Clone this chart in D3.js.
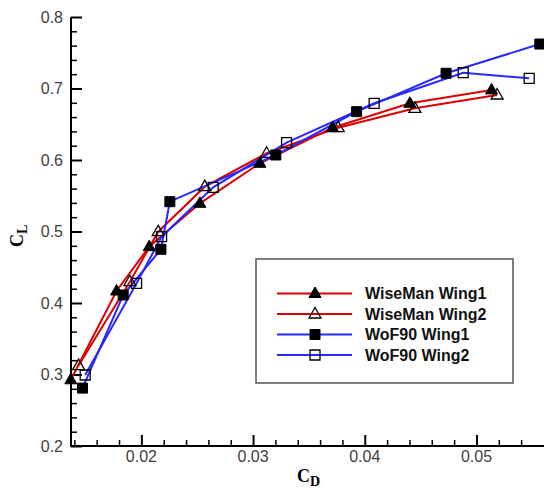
<!DOCTYPE html>
<html>
<head>
<meta charset="utf-8">
<script src="https://cdn.jsdelivr.net/npm/d3@7"></script>
<style>
  html, body { margin: 0; padding: 0; background: #fff; }
  svg { display: block; }
</style>
</head>
<body>
<svg id="chart" width="544" height="488"></svg>
<script>
// ---- data (CD, CL) ----
const seriesNames = ["WiseMan Wing1", "WiseMan Wing2", "WoF90 Wing1", "WoF90 Wing2"];
const wiseMan1CD = [0.01368, 0.01778, 0.02070, 0.02524, 0.03061, 0.03712, 0.04404, 0.05135];
const wiseMan1CL = [0.2926, 0.4168, 0.4788, 0.5394, 0.5954, 0.6452, 0.6793, 0.6980];
const wiseMan2CD = [0.01438, 0.01897, 0.02151, 0.02568, 0.03121, 0.03762, 0.04449, 0.05185];
const wiseMan2CL = [0.3125, 0.4298, 0.4997, 0.5627, 0.6094, 0.6452, 0.6723, 0.6909];
const woF1CD = [0.01473, 0.01837, 0.02175, 0.02255, 0.03204, 0.03927, 0.04728, 0.05567];
const woF1CL = [0.2810, 0.4112, 0.4751, 0.5417, 0.6070, 0.6676, 0.7213, 0.7622];
const woF2CD = [0.01497, 0.01957, 0.02181, 0.02643, 0.03300, 0.04084, 0.04881, 0.05472];
const woF2CL = [0.2993, 0.4275, 0.4927, 0.5618, 0.6242, 0.6793, 0.7221, 0.7143];
const xMajorTicks = [0.02, 0.03, 0.04, 0.05];
const yMajorTicks = [0.2, 0.3, 0.4, 0.5, 0.6, 0.7, 0.8];

const series = [
  {name: seriesNames[0], cd: wiseMan1CD, cl: wiseMan1CL, color: "#dd0000", shape: "tri", filled: true},
  {name: seriesNames[1], cd: wiseMan2CD, cl: wiseMan2CL, color: "#dd0000", shape: "tri", filled: false},
  {name: seriesNames[2], cd: woF1CD, cl: woF1CL, color: "#2828ff", shape: "sq", filled: true},
  {name: seriesNames[3], cd: woF2CD, cl: woF2CL, color: "#2828ff", shape: "sq", filled: false}
];

const svg = d3.select("#chart");
const x = d3.scaleLinear().domain([0.0137, 0.056]).range([71, 71 + (0.056 - 0.0137) * 11170]);
const y = d3.scaleLinear().domain([0.2, 0.8]).range([446, 17]);

const tickFont = "'Liberation Sans', Arial, sans-serif";

// ---- axes ----
const xMinor = d3.range(0.014, 0.0555, 0.002).filter(v => !xMajorTicks.some(m => Math.abs(m - v) < 1e-6));
const yMinor = d3.range(0.2, 0.8001, 0.02).filter(v => !yMajorTicks.some(m => Math.abs(m - v) < 1e-6));

const xAxisMajor = d3.axisTop(x).tickValues(xMajorTicks).tickSize(11).tickFormat("");
const xAxisMinor = d3.axisTop(x).tickValues(xMinor).tickSize(6).tickFormat("");
const yAxisMajor = d3.axisRight(y).tickValues(yMajorTicks).tickSize(11).tickFormat("");
const yAxisMinor = d3.axisRight(y).tickValues(yMinor).tickSize(6).tickFormat("");

function styleAxis(g, w) {
  g.select(".domain").remove();
  g.selectAll(".tick line").attr("stroke", "#000").attr("stroke-width", w);
}
svg.append("g").attr("transform", "translate(0,446)").call(xAxisMinor).call(g => styleAxis(g, 1.5));
svg.append("g").attr("transform", "translate(0,446)").call(xAxisMajor).call(g => styleAxis(g, 2));
svg.append("g").attr("transform", "translate(71,0)").call(yAxisMinor).call(g => styleAxis(g, 1.5));
svg.append("g").attr("transform", "translate(71,0)").call(yAxisMajor).call(g => styleAxis(g, 2));

// axis lines
svg.append("line").attr("x1", 71).attr("x2", 71).attr("y1", y(0.8)).attr("y2", y(0.2) + 1)
  .attr("stroke", "#000").attr("stroke-width", 2);
svg.append("line").attr("x1", 70).attr("x2", 544).attr("y1", 446).attr("y2", 446)
  .attr("stroke", "#000").attr("stroke-width", 2);

// tick labels
svg.append("g").selectAll("text").data(xMajorTicks).join("text")
  .attr("x", d => x(d)).attr("y", 462).attr("text-anchor", "middle")
  .attr("font-family", tickFont).attr("font-size", 16).attr("fill", "#404040")
  .text(d => d3.format(".2f")(d));
svg.append("g").selectAll("text").data(yMajorTicks).join("text")
  .attr("x", 63).attr("y", d => y(d)).attr("dy", "0.35em").attr("text-anchor", "end")
  .attr("font-family", tickFont).attr("font-size", 16).attr("fill", "#404040")
  .text(d => d3.format(".1f")(d));

// axis titles
const serif = "'Liberation Serif', 'Times New Roman', serif";
const xt = svg.append("text").attr("x", 297).attr("y", 482)
  .attr("font-family", serif).attr("font-weight", "bold").attr("font-size", 18).attr("fill", "#000");
xt.append("tspan").text("C");
xt.append("tspan").attr("font-size", 14).attr("dy", 4).text("D");

const yt = svg.append("text").attr("transform", "translate(23,247) rotate(-90)")
  .attr("font-family", serif).attr("font-weight", "bold").attr("font-size", 18).attr("fill", "#000");
yt.append("tspan").text("C");
yt.append("tspan").attr("font-size", 14).attr("dy", 4).text("L");

// ---- markers ----
function markerPath(shape) {
  if (shape === "tri") return "M0,-6.5L6,4L-6,4Z";
  return "M-5,-5L5,-5L5,5L-5,5Z";
}
function drawMarker(g, shape, filled, cx, cy) {
  g.append("path").attr("d", markerPath(shape))
    .attr("transform", `translate(${cx},${cy})`)
    .attr("fill", filled ? "#000" : "none")
    .attr("stroke", "#000").attr("stroke-width", filled ? 1 : 1.3);
}

const plot = svg.append("g");
const line = d3.line().x(d => x(d[0])).y(d => y(d[1]));
series.forEach(s => {
  const pts = s.cd.map((v, i) => [v, s.cl[i]]);
  plot.append("path").datum(pts).attr("d", line)
    .attr("fill", "none").attr("stroke", s.color).attr("stroke-width", 2);
});
series.forEach(s => {
  s.cd.forEach((v, i) => drawMarker(plot, s.shape, s.filled, x(v), y(s.cl[i])));
});

// ---- legend ----
const lg = svg.append("g");
lg.append("rect").attr("x", 256).attr("y", 259).attr("width", 257).attr("height", 124)
  .attr("fill", "#fff").attr("stroke", "#555").attr("stroke-width", 1.5);
const rowY = [293.5, 314, 334.5, 355];
series.forEach((s, i) => {
  lg.append("line").attr("x1", 277).attr("x2", 352).attr("y1", rowY[i]).attr("y2", rowY[i])
    .attr("stroke", s.color).attr("stroke-width", 2);
  drawMarker(lg, s.shape, s.filled, 315, rowY[i]);
  lg.append("text").attr("x", 365).attr("y", rowY[i]).attr("dy", "0.36em")
    .attr("font-family", tickFont).attr("font-weight", "bold").attr("font-size", 16).attr("fill", "#111")
    .text(s.name);
});
</script>
</body>
</html>
